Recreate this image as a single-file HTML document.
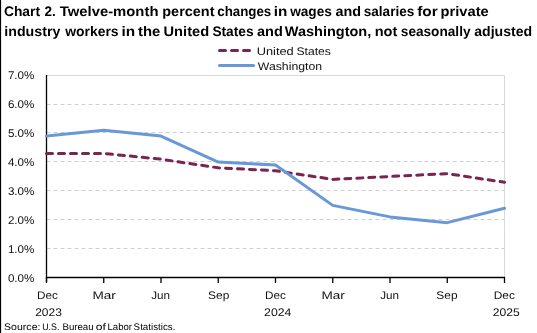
<!DOCTYPE html>
<html><head><meta charset="utf-8"><style>
html,body{margin:0;padding:0;background:#fff;width:537px;height:333px;overflow:hidden}
svg{display:block;will-change:transform}
text{font-family:"Liberation Sans", sans-serif;text-rendering:geometricPrecision}
</style></head><body>
<svg width="537" height="333" viewBox="0 0 537 333">
<rect x="0" y="0" width="537" height="333" fill="#fff"/>
<rect x="0" y="0" width="1.1" height="333" fill="#000"/>

<text x="3.90" y="16.00" font-size="13.8" font-weight="bold" fill="#000" textLength="36.11" lengthAdjust="spacingAndGlyphs">Chart</text>
<text x="44.53" y="16.00" font-size="13.8" font-weight="bold" fill="#000" textLength="11.28" lengthAdjust="spacingAndGlyphs">2.</text>
<text x="59.74" y="16.00" font-size="13.8" font-weight="bold" fill="#000" textLength="98.73" lengthAdjust="spacingAndGlyphs">Twelve-month</text>
<text x="162.28" y="16.00" font-size="13.8" font-weight="bold" fill="#000" textLength="52.27" lengthAdjust="spacingAndGlyphs">percent</text>
<text x="217.22" y="16.00" font-size="13.8" font-weight="bold" fill="#000" textLength="54.05" lengthAdjust="spacingAndGlyphs">changes</text>
<text x="273.81" y="16.00" font-size="13.8" font-weight="bold" fill="#000" textLength="13.55" lengthAdjust="spacingAndGlyphs">in</text>
<text x="290.20" y="16.00" font-size="13.8" font-weight="bold" fill="#000" textLength="41.68" lengthAdjust="spacingAndGlyphs">wages</text>
<text x="335.42" y="16.00" font-size="13.8" font-weight="bold" fill="#000" textLength="25.54" lengthAdjust="spacingAndGlyphs">and</text>
<text x="363.80" y="16.00" font-size="13.8" font-weight="bold" fill="#000" textLength="50.46" lengthAdjust="spacingAndGlyphs">salaries</text>
<text x="417.23" y="16.00" font-size="13.8" font-weight="bold" fill="#000" textLength="20.57" lengthAdjust="spacingAndGlyphs">for</text>
<text x="440.62" y="16.00" font-size="13.8" font-weight="bold" fill="#000" textLength="48.15" lengthAdjust="spacingAndGlyphs">private</text>
<text x="4.33" y="35.80" font-size="13.8" font-weight="bold" fill="#000" textLength="55.97" lengthAdjust="spacingAndGlyphs">industry</text>
<text x="65.20" y="35.80" font-size="13.8" font-weight="bold" fill="#000" textLength="53.44" lengthAdjust="spacingAndGlyphs">workers</text>
<text x="121.56" y="35.80" font-size="13.8" font-weight="bold" fill="#000" textLength="13.64" lengthAdjust="spacingAndGlyphs">in</text>
<text x="138.09" y="35.80" font-size="13.8" font-weight="bold" fill="#000" textLength="22.28" lengthAdjust="spacingAndGlyphs">the</text>
<text x="163.56" y="35.80" font-size="13.8" font-weight="bold" fill="#000" textLength="45.56" lengthAdjust="spacingAndGlyphs">United</text>
<text x="212.42" y="35.80" font-size="13.8" font-weight="bold" fill="#000" textLength="41.17" lengthAdjust="spacingAndGlyphs">States</text>
<text x="256.98" y="35.80" font-size="13.8" font-weight="bold" fill="#000" textLength="25.79" lengthAdjust="spacingAndGlyphs">and</text>
<text x="284.73" y="35.80" font-size="13.8" font-weight="bold" fill="#000" textLength="86.52" lengthAdjust="spacingAndGlyphs">Washington,</text>
<text x="374.70" y="35.80" font-size="13.8" font-weight="bold" fill="#000" textLength="22.70" lengthAdjust="spacingAndGlyphs">not</text>
<text x="400.81" y="35.80" font-size="13.8" font-weight="bold" fill="#000" textLength="69.72" lengthAdjust="spacingAndGlyphs">seasonally</text>
<text x="474.29" y="35.80" font-size="13.8" font-weight="bold" fill="#000" textLength="57.89" lengthAdjust="spacingAndGlyphs">adjusted</text>
<line x1="219.5" y1="50.5" x2="250" y2="50.5" stroke="#7A2452" stroke-width="3" stroke-linecap="round" stroke-dasharray="6 6"/>
<line x1="219.5" y1="65.5" x2="253.5" y2="65.5" stroke="#6898D8" stroke-width="3" stroke-linecap="round"/>
<text x="256.71" y="54.80" font-size="11" fill="#111" textLength="37.00" lengthAdjust="spacingAndGlyphs">United</text>
<text x="296.43" y="54.80" font-size="11" fill="#111" textLength="34.48" lengthAdjust="spacingAndGlyphs">States</text>
<text x="257.77" y="70.10" font-size="11" fill="#111" textLength="64.34" lengthAdjust="spacingAndGlyphs">Washington</text>
<line x1="46.5" y1="248.50" x2="504.5" y2="248.50" stroke="#D0D0D0" stroke-width="1" stroke-dasharray="4 3"/>
<line x1="46.5" y1="219.50" x2="504.5" y2="219.50" stroke="#D0D0D0" stroke-width="1" stroke-dasharray="4 3"/>
<line x1="46.5" y1="190.50" x2="504.5" y2="190.50" stroke="#D0D0D0" stroke-width="1" stroke-dasharray="4 3"/>
<line x1="46.5" y1="161.50" x2="504.5" y2="161.50" stroke="#D0D0D0" stroke-width="1" stroke-dasharray="4 3"/>
<line x1="46.5" y1="132.50" x2="504.5" y2="132.50" stroke="#D0D0D0" stroke-width="1" stroke-dasharray="4 3"/>
<line x1="46.5" y1="104.50" x2="504.5" y2="104.50" stroke="#D0D0D0" stroke-width="1" stroke-dasharray="4 3"/>
<line x1="46.5" y1="75.5" x2="504.5" y2="75.5" stroke="#D9D9D9" stroke-width="1"/>
<line x1="504.5" y1="75.5" x2="504.5" y2="277" stroke="#D9D9D9" stroke-width="1"/>
<line x1="46.5" y1="75" x2="46.5" y2="282" stroke="#000" stroke-width="1.3"/>
<line x1="46" y1="277.5" x2="505" y2="277.5" stroke="#000" stroke-width="1.3"/>
<line x1="46.50" y1="277" x2="46.50" y2="283" stroke="#000" stroke-width="1.3"/>
<line x1="103.75" y1="277" x2="103.75" y2="283" stroke="#000" stroke-width="1.3"/>
<line x1="161.00" y1="277" x2="161.00" y2="283" stroke="#000" stroke-width="1.3"/>
<line x1="218.25" y1="277" x2="218.25" y2="283" stroke="#000" stroke-width="1.3"/>
<line x1="275.50" y1="277" x2="275.50" y2="283" stroke="#000" stroke-width="1.3"/>
<line x1="332.75" y1="277" x2="332.75" y2="283" stroke="#000" stroke-width="1.3"/>
<line x1="390.00" y1="277" x2="390.00" y2="283" stroke="#000" stroke-width="1.3"/>
<line x1="447.25" y1="277" x2="447.25" y2="283" stroke="#000" stroke-width="1.3"/>
<line x1="504.50" y1="277" x2="504.50" y2="283" stroke="#000" stroke-width="1.3"/>
<text x="7.91" y="282.00" font-size="11.2" fill="#111" textLength="26.51" lengthAdjust="spacingAndGlyphs">0.0%</text>
<text x="7.91" y="253.00" font-size="11.2" fill="#111" textLength="26.51" lengthAdjust="spacingAndGlyphs">1.0%</text>
<text x="7.91" y="224.00" font-size="11.2" fill="#111" textLength="26.51" lengthAdjust="spacingAndGlyphs">2.0%</text>
<text x="7.91" y="195.00" font-size="11.2" fill="#111" textLength="26.51" lengthAdjust="spacingAndGlyphs">3.0%</text>
<text x="7.91" y="166.00" font-size="11.2" fill="#111" textLength="26.51" lengthAdjust="spacingAndGlyphs">4.0%</text>
<text x="7.91" y="137.00" font-size="11.2" fill="#111" textLength="26.51" lengthAdjust="spacingAndGlyphs">5.0%</text>
<text x="7.91" y="108.00" font-size="11.2" fill="#111" textLength="26.51" lengthAdjust="spacingAndGlyphs">6.0%</text>
<text x="7.91" y="79.00" font-size="11.2" fill="#111" textLength="26.51" lengthAdjust="spacingAndGlyphs">7.0%</text>
<text x="37.11" y="298.80" font-size="11" fill="#111" textLength="20.88" lengthAdjust="spacingAndGlyphs">Dec</text>
<text x="92.43" y="298.80" font-size="11" fill="#111" textLength="23.37" lengthAdjust="spacingAndGlyphs">Mar</text>
<text x="151.17" y="298.80" font-size="11" fill="#111" textLength="18.82" lengthAdjust="spacingAndGlyphs">Jun</text>
<text x="208.12" y="298.80" font-size="11" fill="#111" textLength="21.31" lengthAdjust="spacingAndGlyphs">Sep</text>
<text x="265.11" y="298.80" font-size="11" fill="#111" textLength="20.88" lengthAdjust="spacingAndGlyphs">Dec</text>
<text x="321.43" y="298.80" font-size="11" fill="#111" textLength="23.37" lengthAdjust="spacingAndGlyphs">Mar</text>
<text x="380.17" y="298.80" font-size="11" fill="#111" textLength="18.82" lengthAdjust="spacingAndGlyphs">Jun</text>
<text x="436.37" y="298.80" font-size="11" fill="#111" textLength="21.23" lengthAdjust="spacingAndGlyphs">Sep</text>
<text x="493.72" y="298.80" font-size="11" fill="#111" textLength="21.18" lengthAdjust="spacingAndGlyphs">Dec</text>
<text x="35.18" y="315.70" font-size="11" fill="#111" textLength="26.62" lengthAdjust="spacingAndGlyphs">2023</text>
<text x="264.14" y="315.70" font-size="11" fill="#111" textLength="27.31" lengthAdjust="spacingAndGlyphs">2024</text>
<text x="492.87" y="315.70" font-size="11" fill="#111" textLength="26.99" lengthAdjust="spacingAndGlyphs">2025</text>
<polyline points="46.50,153.41 103.75,153.41 161.00,159.19 218.25,167.84 275.50,170.73 332.75,179.39 390.00,176.50 447.25,173.61 504.50,182.27" fill="none" stroke="#7A2452" stroke-width="3" stroke-linejoin="round" stroke-linecap="round" stroke-dasharray="6 6"/>
<polyline points="46.50,136.10 103.75,130.33 161.00,136.10 218.25,162.07 275.50,164.96 332.75,205.36 390.00,216.90 447.25,222.67 504.50,208.24" fill="none" stroke="#6898D8" stroke-width="3" stroke-linejoin="round" stroke-linecap="round"/>
<text x="4.09" y="329.60" font-size="9.6" fill="#000" textLength="36.36" lengthAdjust="spacingAndGlyphs">Source:</text>
<text x="42.13" y="329.60" font-size="9.6" fill="#000" textLength="17.29" lengthAdjust="spacingAndGlyphs">U.S.</text>
<text x="62.48" y="329.60" font-size="9.6" fill="#000" textLength="31.14" lengthAdjust="spacingAndGlyphs">Bureau</text>
<text x="95.86" y="329.60" font-size="9.6" fill="#000" textLength="10.09" lengthAdjust="spacingAndGlyphs">of</text>
<text x="107.54" y="329.60" font-size="9.6" fill="#000" textLength="24.42" lengthAdjust="spacingAndGlyphs">Labor</text>
<text x="133.61" y="329.60" font-size="9.6" fill="#000" textLength="41.84" lengthAdjust="spacingAndGlyphs">Statistics.</text>
</svg></body></html>
